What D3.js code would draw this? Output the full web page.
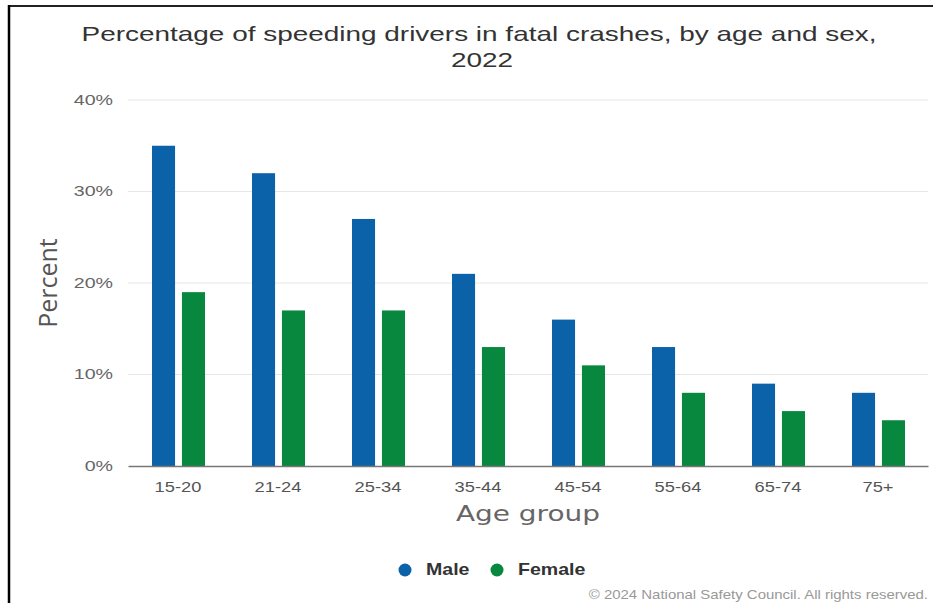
<!DOCTYPE html>
<html><head><meta charset="utf-8">
<script src="https://cdn.jsdelivr.net/npm/d3@7"></script>
<style>body{margin:0;background:#fff;}svg{display:block;}</style>
</head><body>
<svg id="c" width="933" height="603"></svg>
<script>
const categories = ["15-20","21-24","25-34","35-44","45-54","55-64","65-74","75+"];
const maleValues = [35,32,27,21,16,13,9,8];
const femaleValues = [19,17,17,13,11,8,6,5];
const seriesNames = ["Male","Female"];
const yTicks = [0,10,20,30,40];

const svg = d3.select("#c");
const W = 933, H = 603;
const m = {left:128, right:5, top:100, bottom:137};
const x = d3.scaleBand().domain(categories).range([m.left, W-m.right]);
const y = d3.scaleLinear().domain([0,40]).range([H-m.bottom, m.top]);
const inner = d3.scaleBand().domain(seriesNames).range([24, x.bandwidth()-23]).paddingInner(0.23);
const colors = {Male:"#0b62a9", Female:"#08873e"};
const FONT = "Liberation Sans, Arial, sans-serif";

// horizontal stretch helper (the reference is horizontally widened)
function stretch(sel, f){
  sel.each(function(){
    const w = this.getComputedTextLength();
    d3.select(this).attr("textLength", w*f).attr("lengthAdjust","spacingAndGlyphs");
  });
}

// border
svg.append("line").attr("x1",9).attr("x2",W).attr("y1",6).attr("y2",6).attr("stroke","#222").attr("stroke-width",2);
svg.append("line").attr("x1",9).attr("x2",9).attr("y1",5).attr("y2",H).attr("stroke","#000").attr("stroke-width",2.5);

// title
const title = svg.append("text").attr("text-anchor","middle")
  .attr("font-family",FONT).attr("font-size",21).attr("fill","#333");
const t1 = title.append("tspan").attr("x",479).attr("y",41).text("Percentage of speeding drivers in fatal crashes, by age and sex,");
const t2 = svg.append("text").attr("text-anchor","middle").attr("font-family",FONT).attr("font-size",21).attr("fill","#333")
  .attr("x",482).attr("y",67).text("2022");
stretch(title, 1.33);
stretch(t2, 1.33);

// grid
const yAxis = d3.axisLeft(y).tickValues(yTicks).tickFormat(d=>d+"%").tickSize(0).tickPadding(0);
const gy = svg.append("g").attr("transform",`translate(${m.left-15},0)`).call(yAxis);
gy.select(".domain").remove();
gy.selectAll("text").attr("font-family",FONT).attr("font-size",14).attr("fill","#666").call(stretch,1.4);
svg.append("g").selectAll("line").data(yTicks.filter(d=>d>0)).join("line")
  .attr("x1",m.left).attr("x2",W-m.right).attr("y1",d=>y(d)).attr("y2",d=>y(d))
  .attr("stroke","#e6e6e6").attr("stroke-width",1);

// bars
const rows = categories.map((c,i)=>({c, vals:[{s:"Male",v:maleValues[i]},{s:"Female",v:femaleValues[i]}]}));
const g = svg.append("g").selectAll("g").data(rows).join("g").attr("transform",d=>`translate(${x(d.c)},0)`);
g.selectAll("rect").data(d=>d.vals).join("rect")
  .attr("x",d=>inner(d.s)).attr("width",inner.bandwidth())
  .attr("y",d=>y(d.v)).attr("height",d=>y(0)-y(d.v))
  .attr("fill",d=>colors[d.s]);

// baseline + x axis
const xAxis = d3.axisBottom(x).tickSize(0).tickPadding(15);
const gx = svg.append("g").attr("transform",`translate(0,${y(0)})`).call(xAxis);
gx.select(".domain").attr("stroke","#777").attr("stroke-width",1.5);
gx.selectAll("text").attr("font-family",FONT).attr("font-size",15).attr("fill","#555").call(stretch,1.22);

// axis titles
const xt = svg.append("text").attr("x",528).attr("y",521).attr("text-anchor","middle")
  .attr("font-family","DejaVu Sans, Verdana, sans-serif").attr("font-size",22).attr("fill","#666").text("Age group");
stretch(xt, 1.27);
svg.append("text").attr("transform","translate(57,283) rotate(-90)").attr("text-anchor","middle")
  .attr("font-family","Open Sans, sans-serif").attr("font-size",25).attr("fill","#555").text("Percent");

// legend
const leg = [{s:"Male",cx:405,tx:426},{s:"Female",cx:497,tx:518}];
svg.append("g").selectAll("circle").data(leg).join("circle")
  .attr("cx",d=>d.cx).attr("cy",570).attr("r",6.5).attr("fill",d=>colors[d.s]);
svg.append("g").selectAll("text").data(leg).join("text")
  .attr("x",d=>d.tx).attr("y",575).attr("font-family",FONT)
  .attr("font-size",17).attr("font-weight","bold").attr("fill","#333").text(d=>d.s).call(stretch,1.15);

// credit
const cr = svg.append("text").attr("x",928).attr("y",599).attr("text-anchor","end")
  .attr("font-family",FONT).attr("font-size",13).attr("fill","#999")
  .text("© 2024 National Safety Council. All rights reserved.");
stretch(cr, 1.15);
</script>
</body></html>
